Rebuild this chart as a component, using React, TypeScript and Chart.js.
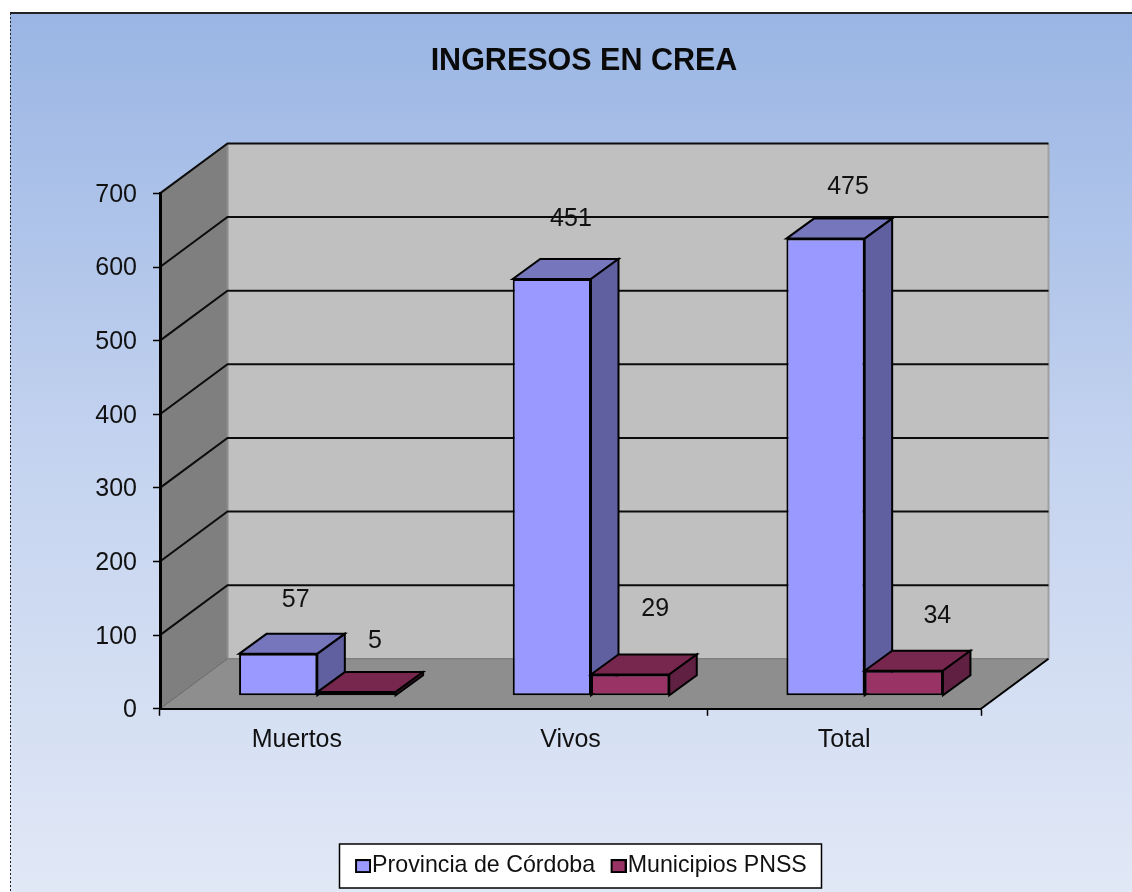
import React, { useEffect, useRef } from "react";
import { Chart, registerables } from "chart.js";

Chart.register(...registerables);

const categories = ["Muertos", "Vivos", "Total"];
const provinciaValues = [57, 566, 621];
const municipiosValues = [5, 29, 34];
const provinciaLabels = ["57", "451", "475"];
const municipiosLabels = ["5", "29", "34"];
const seriesNames = ["Provincia de Córdoba", "Municipios PNSS"];
const chartTitle = "INGRESOS EN CREA";

// Layout of the pseudo-3D look
const WALL = { dx: 67.5, dy: -50 };
const BAR = { dx: 20.5, dy: -13, depthX: 27.5, depthY: -20 };
const FONT = "'Liberation Sans', Arial, sans-serif";
const LEGEND_PAD = 21;
const labelShift = [
  [[38, -67], [39.6, -72.6], [43, -64]],
  [[39, -64], [45.6, -78], [54, -68]],
];
const faces = [
  { front: "#9999ff", top: "#7676bd", side: "#6060a0" },
  { front: "#993366", top: "#77264e", side: "#5f2042" },
];

function poly(ctx: CanvasRenderingContext2D, pts: number[][], fill?: string, stroke?: string, lw = 1) {
  ctx.beginPath();
  pts.forEach((p, i) => (i ? ctx.lineTo(p[0], p[1]) : ctx.moveTo(p[0], p[1])));
  ctx.closePath();
  if (fill) {
    ctx.fillStyle = fill;
    ctx.fill();
  }
  if (stroke) {
    ctx.strokeStyle = stroke;
    ctx.lineWidth = lw;
    ctx.stroke();
  }
}

function line(ctx: CanvasRenderingContext2D, pts: number[][], stroke: string, lw: number) {
  ctx.beginPath();
  pts.forEach((p, i) => (i ? ctx.lineTo(p[0], p[1]) : ctx.moveTo(p[0], p[1])));
  ctx.strokeStyle = stroke;
  ctx.lineWidth = lw;
  ctx.stroke();
}

function swatch(color: string) {
  const c = document.createElement("canvas");
  c.width = 21;
  c.height = 14;
  const x = c.getContext("2d")!;
  x.fillStyle = "#000";
  x.fillRect(5, 0, 16, 14);
  x.fillStyle = color;
  x.fillRect(7, 2, 12, 10);
  return c;
}

const scene = {
  id: "scene",
  afterLayout(chart: any) {
    chart.titleBlock.left = 0;
    chart.titleBlock.right = 1168;
    chart.titleBlock.top = 43;
    const lg = chart.legend;
    lg.left = 300;
    lg.right = 2 * 360.5 - 300 - LEGEND_PAD + lg.lineWidths[0];
    lg.top = 854.5 - LEGEND_PAD;
    lg.bottom = 892;
  },
  beforeDraw(chart: any) {
    const { ctx, chartArea: a, scales } = chart;
    ctx.save();
    // page panel
    const g = ctx.createLinearGradient(0, 13, 0, 892);
    g.addColorStop(0, "#9ab5e4");
    g.addColorStop(0.5, "#c4d3ef");
    g.addColorStop(1, "#e1e8f6");
    ctx.fillStyle = g;
    ctx.fillRect(10, 13, 1122, 879);
    line(ctx, [[10, 13], [1132, 13]], "#222", 2);
    ctx.setLineDash([2, 2]);
    line(ctx, [[10.5, 13], [10.5, 892]], "#222", 1);
    ctx.setLineDash([]);

    const { left: l, right: r, top: t, bottom: b } = a;
    const { dx, dy } = WALL;
    poly(ctx, [[l + dx, t + dy], [r + dx, t + dy], [r + dx, b + dy], [l + dx, b + dy]], "#c0c0c0");
    poly(ctx, [[l, t], [l + dx, t + dy], [l + dx, b + dy], [l, b]], "#7f7f7f");
    poly(ctx, [[l, b], [l + dx, b + dy], [r + dx, b + dy], [r, b]], "#8e8e8e");
    line(ctx, [[l + dx, t + dy], [l + dx, b + dy]], "#8c8c8c", 2);
    line(ctx, [[r + dx, t + dy], [r + dx, b + dy]], "#a0a0a0", 2);
    line(ctx, [[l + dx, b + dy], [r + dx, b + dy]], "#808080", 1.5);
    line(ctx, [[l, b], [l + dx, b + dy]], "#666", 1);
    line(ctx, [[r, b], [r + dx, b + dy]], "#000", 2);

    const y = scales.y;
    y.ticks.forEach((tk: any) => {
      if (tk.value === 0) return;
      const p = y.getPixelForValue(tk.value);
      line(ctx, [[l, p], [l + dx, p + dy], [r + dx, p + dy]], "#0c0c0c", 2);
    });

    // legend box
    ctx.fillStyle = "#fff";
    ctx.fillRect(339.5, 844, 482, 44);
    ctx.strokeStyle = "#000";
    ctx.lineWidth = 1.5;
    ctx.strokeRect(339.5, 844, 482, 44);
    ctx.restore();
  },
  // Left series first, so the right-hand bar sits in front of its neighbour's side face.
  beforeDatasetsDraw(chart: any) {
    const { ctx } = chart;
    const { depthX: ex, depthY: ey } = BAR;
    [0, 1].forEach((d) => {
      const meta = chart.getDatasetMeta(d);
      const f = faces[d];
      ctx.save();
      ctx.translate(BAR.dx, BAR.dy);
      meta.data.forEach((el: any) => {
        const lft = el.x - el.width / 2;
        const rgt = el.x + el.width / 2;
        poly(ctx, [[lft, el.y], [lft + ex, el.y + ey], [rgt + ex, el.y + ey], [rgt, el.y]], f.top, "#000", 2);
        poly(ctx, [[rgt, el.y], [rgt + ex, el.y + ey], [rgt + ex, el.base + ey], [rgt, el.base]], f.side, "#000", 2);
      });
      meta.controller.draw();
      ctx.restore();
    });
    return false;
  },
  afterDraw(chart: any) {
    const { ctx } = chart;
    ctx.save();
    ctx.font = `25px ${FONT}`;
    ctx.fillStyle = "#111";
    ctx.textAlign = "center";
    ctx.textBaseline = "middle";
    [provinciaLabels, municipiosLabels].forEach((labels, d) => {
      const meta = chart.getDatasetMeta(d);
      labels.forEach((txt, i) => {
        const el = meta.data[i];
        ctx.fillText(txt, el.x + labelShift[d][i][0], el.y + labelShift[d][i][1]);
      });
    });
    ctx.restore();
  },
};

export default function App() {
  const ref = useRef<HTMLCanvasElement>(null);
  useEffect(() => {
    document.body.style.margin = "0";
    const swatches = [swatch(faces[0].front), swatch(faces[1].front)];
    const chart = new Chart(ref.current!, {
      type: "bar",
      data: {
        labels: categories,
        datasets: [
          {
            label: seriesNames[0],
            data: provinciaValues,
            backgroundColor: faces[0].front,
            borderColor: "#000",
            borderWidth: 2,
            borderSkipped: false,
          },
          {
            label: seriesNames[1],
            data: municipiosValues,
            backgroundColor: faces[1].front,
            borderColor: "#000",
            borderWidth: 2,
            borderSkipped: false,
          },
        ],
      } as any,
      options: {
        responsive: false,
        animation: false,
        events: [],
        layout: { padding: { left: 0, right: 151, top: 156.8, bottom: 69 } },
        datasets: { bar: { barPercentage: 1, categoryPercentage: 0.572 } },
        plugins: {
          tooltip: { enabled: false },
          title: {
            display: true,
            text: chartTitle,
            color: "#0a0a0a",
            font: { family: FONT, size: 30.5, weight: "bold" },
            padding: 0,
          },
          legend: {
            display: true,
            position: "bottom",
            labels: {
              color: "#111",
              font: { family: FONT, size: 23.2 },
              usePointStyle: true,
              boxWidth: 0.01,
              padding: LEGEND_PAD,
              generateLabels: (c: any) =>
                (Chart.defaults.plugins.legend.labels as any).generateLabels(c).map((it: any, i: number) => ({
                  ...it,
                  pointStyle: swatches[i],
                })),
            },
          },
        },
        scales: {
          x: {
            afterFit: (s: any) => {
              s.height = 60;
            },
            grid: {
              drawOnChartArea: false,
              tickLength: 7,
              tickColor: (c: any) => (c.index === 1 ? "rgba(0,0,0,0)" : "#000"),
              tickWidth: 1.5,
            },
            border: { color: "#000", width: 2 },
            ticks: { color: "#111", font: { family: FONT, size: 25 }, padding: 9, maxRotation: 0 },
          },
          y: {
            min: 0,
            max: 700,
            afterFit: (s: any) => {
              s.width = 160;
            },
            grid: { drawOnChartArea: false, tickLength: 7, tickColor: "#000", tickWidth: 1.5 },
            border: { color: "#000", width: 3 },
            ticks: { stepSize: 100, color: "#111", font: { family: FONT, size: 25 }, padding: 16, labelOffset: 1.5 },
          },
        },
      } as any,
      plugins: [scene as any],
    });
    return () => chart.destroy();
  }, []);
  return <canvas ref={ref} width={1132} height={892} style={{ display: "block" }} />;
}
